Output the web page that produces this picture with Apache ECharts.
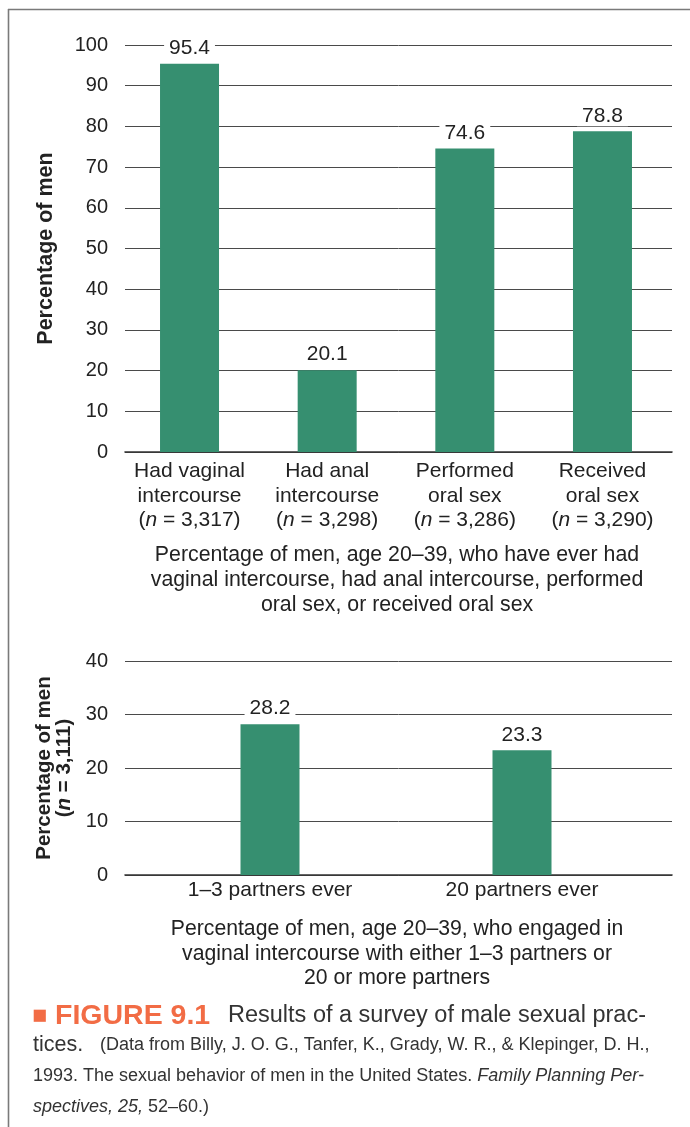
<!DOCTYPE html>
<html>
<head>
<meta charset="utf-8">
<script src="https://cdn.jsdelivr.net/npm/echarts@6/dist/echarts.min.js"></script>
<style>
html,body{margin:0;padding:0;background:#fff;}
#main{width:690px;height:1127px;}
</style>
</head>
<body>
<div id="main"></div>
<script>
// ---- data ----
const topCategories = ['Had vaginal\nintercourse', 'Had anal\nintercourse', 'Performed\noral sex', 'Received\noral sex'];
const topN = ['3,317', '3,298', '3,286', '3,290'];
const topValues = [95.4, 20.1, 74.6, 78.8];
const topTicks = {min: 0, max: 100, interval: 10};

const bottomCategories = ['1\u20133 partners ever', '20 partners ever'];
const bottomValues = [28.2, 23.3];
const bottomTicks = {min: 0, max: 40, interval: 10};

const topSubtitle = 'Percentage of men, age 20\u201339, who have ever had\nvaginal intercourse, had anal intercourse, performed\noral sex, or received oral sex';
const bottomSubtitle = 'Percentage of men, age 20\u201339, who engaged in\nvaginal intercourse with either 1\u20133 partners or\n20 or more partners';

// ---- styles ----
const FONT = '"Liberation Sans", Arial, Helvetica, sans-serif';
const GREEN = '#368f70';
const ORANGE = '#f26c45';
const TEXT = '#222';
const CAP = '#333';

const chart = echarts.init(document.getElementById('main'), null, {renderer: 'canvas'});

function axisGrid(idx, cats, ticks, name) {
  return {
    x: {gridIndex: idx, type: 'category', data: cats,
        axisLine: {show: true, lineStyle: {color: '#333', width: 1.6}},
        axisTick: {show: false}, axisLabel: {show: false}, splitLine: {show: false}},
    y: {gridIndex: idx, type: 'value', min: ticks.min, max: ticks.max, interval: ticks.interval,
        axisLine: {show: false}, axisTick: {show: false},
        axisLabel: {margin: 17, color: TEXT, fontSize: 20, fontFamily: FONT},
        splitLine: {show: true, lineStyle: {color: '#4a4a4a', width: 1}},
        name: name.text, nameLocation: 'middle', nameRotate: 90, nameGap: name.gap,
        nameTextStyle: {fontFamily: FONT, fontSize: 21.5, fontWeight: 'bold', color: TEXT,
                        lineHeight: 20, rich: name.rich}}
  };
}
function barGrid(idx, cats, ticks, fmt, margin) {
  return {
    x: {gridIndex: idx, type: 'category', data: cats,
        axisLine: {show: false}, axisTick: {show: false}, splitLine: {show: false},
        axisLabel: {margin: margin, color: TEXT, fontSize: 21, lineHeight: 24.5, fontFamily: FONT,
                    interval: 0, formatter: fmt,
                    rich: {i: {fontStyle: 'italic', fontSize: 21, color: TEXT, fontFamily: FONT, lineHeight: 24.5}}}},
    y: {gridIndex: idx, type: 'value', min: ticks.min, max: ticks.max, interval: ticks.interval,
        show: false, splitLine: {show: false}}
  };
}

const a0 = axisGrid(0, topCategories, topTicks, {text: 'Percentage of men', gap: 69});
const b1 = barGrid(1, topCategories, topTicks, function (v, i) {
  return v + '\n({i|n} = ' + topN[i] + ')';
}, 7);
const a2 = axisGrid(2, bottomCategories, bottomTicks, {
  text: '{b|Percentage of men}\n{b|(}{bi|n}{b| = 3,111)}', gap: 50,
  rich: {b: {fontFamily: FONT, fontSize: 20.5, fontWeight: 'bold', color: TEXT, lineHeight: 20.5},
         bi: {fontFamily: FONT, fontSize: 20.5, fontWeight: 'bold', fontStyle: 'italic', color: TEXT, lineHeight: 20.5}}
});
const b3 = barGrid(3, bottomCategories, bottomTicks, function (v) { return v; }, 3);

const labelStyle = {show: true, position: 'top', distance: 5, color: TEXT, fontSize: 21,
                    fontFamily: FONT, backgroundColor: '#fff', padding: [0, 5]};

const option = {
  backgroundColor: '#fff',
  animation: false,
  grid: [
    {left: 125, right: 18, top: 45, height: 407},
    {left: 120.7, right: 18.7, top: 45, height: 407},
    {left: 125, right: 18, top: 661, height: 214},
    {left: 144, right: 42, top: 661, height: 214}
  ],
  xAxis: [a0.x, b1.x, a2.x, b3.x],
  yAxis: [a0.y, b1.y, a2.y, b3.y],
  series: [
    {type: 'bar', xAxisIndex: 1, yAxisIndex: 1, data: topValues, barWidth: 59,
     itemStyle: {color: GREEN}, label: labelStyle, z: 3},
    {type: 'bar', xAxisIndex: 3, yAxisIndex: 3, data: bottomValues, barWidth: 59,
     itemStyle: {color: GREEN}, label: labelStyle, z: 3}
  ],
  graphic: [
    {type: 'line', shape: {x1: 8, y1: 9.5, x2: 690, y2: 9.5}, style: {stroke: '#7a7a7a', lineWidth: 1.6}},
    {type: 'line', shape: {x1: 8.5, y1: 9, x2: 8.5, y2: 1127}, style: {stroke: '#7a7a7a', lineWidth: 1.6}},
    {type: 'text', x: 397, y: 543, style: {text: topSubtitle, fill: TEXT,
      fontSize: 21.3, fontFamily: FONT, align: 'center', verticalAlign: 'top', lineHeight: 25}},
    {type: 'text', x: 397, y: 917, style: {text: bottomSubtitle, fill: TEXT,
      fontSize: 21.2, fontFamily: FONT, align: 'center', verticalAlign: 'top', lineHeight: 24.5}},
    {type: 'text', x: 32, y: 1016, style: {
      text: '{sq|\u25A0}{fig|FIGURE 9.1}{n|Results of a survey of male sexual prac-}',
      verticalAlign: 'middle',
      rich: {
        sq: {fill: ORANGE, fontSize: 25, fontFamily: FONT, width: 23},
        fig: {fill: ORANGE, fontSize: 28.5, fontWeight: 'bold', fontFamily: FONT, width: 173},
        n: {fill: CAP, fontSize: 23.5, fontFamily: FONT}
      }}},
    {type: 'text', x: 33, y: 1045, style: {
      text: '{n|tices.}{s|(Data from Billy, J. O. G., Tanfer, K., Grady, W. R., & Klepinger, D. H.,}',
      verticalAlign: 'middle',
      rich: {n: {fill: CAP, fontSize: 21.5, fontFamily: FONT, width: 67},
             s: {fill: CAP, fontSize: 18, fontFamily: FONT}}}},
    {type: 'text', x: 33, y: 1076, style: {
      text: '{s|1993. The sexual behavior of men in the United States. }{si|Family Planning Per-}',
      verticalAlign: 'middle',
      rich: {s: {fill: CAP, fontSize: 18, fontFamily: FONT},
             si: {fill: CAP, fontSize: 18, fontStyle: 'italic', fontFamily: FONT}}}},
    {type: 'text', x: 33, y: 1107, style: {
      text: '{si|spectives, 25,}{s| 52\u201360.)}',
      verticalAlign: 'middle',
      rich: {s: {fill: CAP, fontSize: 18, fontFamily: FONT},
             si: {fill: CAP, fontSize: 18, fontStyle: 'italic', fontFamily: FONT}}}}
  ]
};
chart.setOption(option);
</script>
</body>
</html>
